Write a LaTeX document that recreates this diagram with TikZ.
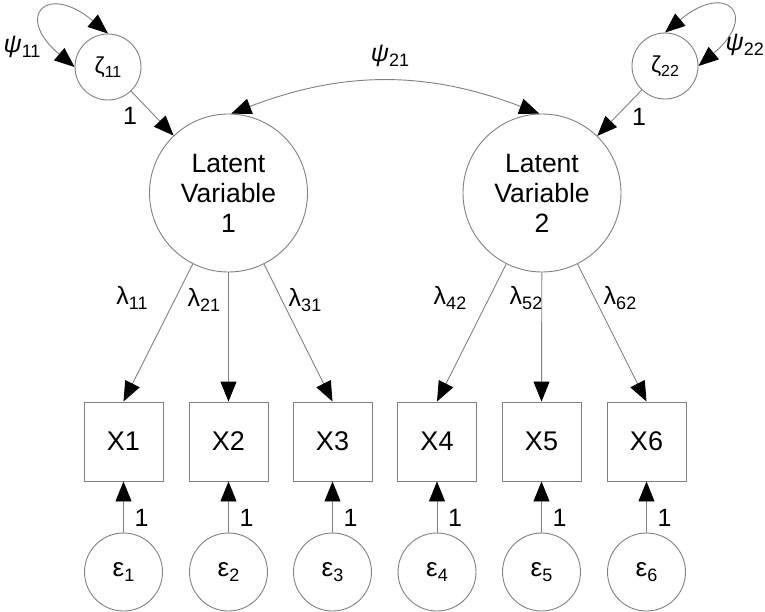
\documentclass[tikz,border=0pt]{standalone}
\usepackage{fontspec}
\setmainfont{Liberation Sans}
\usetikzlibrary{arrows.meta}

% symbol with a lowered, smaller subscript
\newcommand{\symsub}[3][18]{#2\raisebox{-4.5pt}{\fontsize{#1}{#1}\selectfont #3}}

\tikzset{
  line/.style={draw=black!50, line width=0.9pt},
  tip/.style={-{Triangle[length=20pt,width=16pt,color=black]}},
  tips/.style={{Triangle[length=20pt,width=16pt,color=black]}-{Triangle[length=20pt,width=16pt,color=black]}},
  latent/.style={circle, line, minimum size=158pt, inner sep=0pt, align=center,
                 font=\fontsize{26.5}{30}\selectfont},
  disturb/.style={circle, line, minimum size=66pt, inner sep=0pt,
                  font=\fontsize{23}{23}\selectfont},
  errc/.style={circle, line, minimum size=78pt, inner sep=0pt,
               font=\fontsize{26}{26}\selectfont},
  obs/.style={rectangle, line, minimum size=79pt, inner sep=0pt,
              font=\fontsize{27}{27}\selectfont},
  lbl/.style={inner sep=0pt, font=\fontsize{25}{25}\selectfont}
}

\begin{document}
\begin{tikzpicture}[x=1pt,y=1pt]
\useasboundingbox (0,0) rectangle (765,-612);

% latent variables and their disturbances
\node[latent] (L1) at (228.5,-193) {Latent\\Variable\\1};
\node[latent] (L2) at (542,-193) {Latent\\Variable\\2};
\node[disturb] (Z1) at (108,-67) {\symsub[16]{ζ}{11}};
\node[disturb] (Z2) at (665,-66) {\symsub[16]{ζ}{22}};

% indicators
\foreach \i/\x in {1/123.5, 2/228.5, 3/332.5, 4/437, 5/541.5, 6/646.5} {
  \node[obs] (X\i) at (\x,-441.5) {X\i};
  \node[errc] (E\i) at (\x,-572) {\symsub{ε}{\i}};
  \draw[line, tip] (E\i) -- (X\i);
  \node[lbl, anchor=west] (one\i) at (\x+11,-518) {1};
}

% loadings
\foreach \i in {1,2,3} \draw[line, tip] (L1) -- (X\i.north);
\foreach \i in {4,5,6} \draw[line, tip] (L2) -- (X\i.north);

\node[lbl] (l11) at (132,-298) {\symsub{λ}{11}};
\node[lbl] (l21) at (204,-300) {\symsub{λ}{21}};
\node[lbl] (l31) at (305,-300) {\symsub{λ}{31}};
\node[lbl] (l42) at (450,-298) {\symsub{λ}{42}};
\node[lbl] (l52) at (526,-298) {\symsub{λ}{52}};
\node[lbl] (l62) at (620,-298) {\symsub{λ}{62}};

% disturbance paths
\draw[line, tip] (Z1) -- (L1);
\draw[line, tip] (Z2) -- (L2);
\node[lbl] (z1one) at (130,-116) {1};
\node[lbl] (z2one) at (639,-117) {1};

% disturbance variances
\draw[line, tips] (Z1.180) to[out=140, in=140, looseness=4.3] (Z1.90);
\draw[line, tips] (Z2.90) to[out=40, in=40, looseness=4.3] (Z2.0);
\node[lbl] (psi11) at (22,-47) {\symsub{{\itshape ψ}}{11}};
\node[lbl, anchor=east] (psi22) at (764,-45) {\symsub{{\itshape ψ}}{22}};

% covariance of the latent variables
\draw[line, tips] (L1.88) to[bend left=21] (L2.92);
\node[lbl] (psi21) at (390,-56) {\symsub{{\itshape ψ}}{21}};
\end{tikzpicture}
\end{document}
